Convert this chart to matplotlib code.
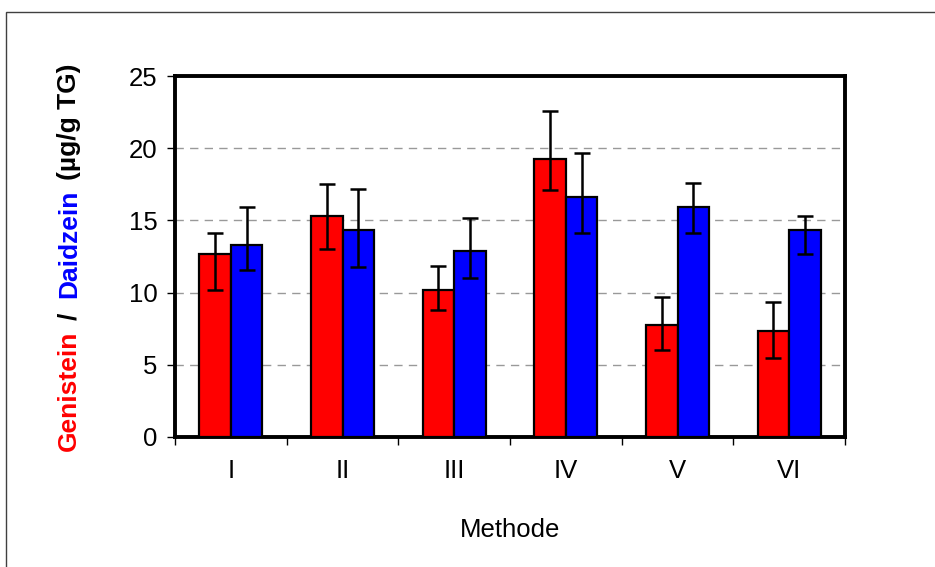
import matplotlib
matplotlib.use('Agg')
import matplotlib.pyplot as plt
from matplotlib.patches import Rectangle
import numpy as np

plt.rcParams['font.family'] = ['Liberation Sans', 'DejaVu Sans']

methods = ['I', 'II', 'III', 'IV', 'V', 'VI']

# Genistein (red) and Daidzein (blue), mean content in ug/g TG
genistein = [12.7, 15.3, 10.15, 19.25, 7.75, 7.35]
genistein_err_lo = [2.5, 2.3, 1.35, 2.15, 1.7, 1.85]
genistein_err_hi = [1.4, 2.25, 1.7, 3.3, 1.95, 2.0]

daidzein = [13.3, 14.35, 12.85, 16.6, 15.95, 14.35]
daidzein_err_lo = [1.75, 2.55, 1.85, 2.5, 1.85, 1.7]
daidzein_err_hi = [2.6, 2.8, 2.3, 3.1, 1.65, 0.95]

yticks = [0, 5, 10, 15, 20, 25]

W, H = 935, 567
fig = plt.figure(figsize=(W / 100, H / 100), dpi=100)
ax = fig.add_axes([175 / W, 1 - 437 / H, 670 / W, 361 / H])

# thin frame around the whole chart area
fig.patches.append(Rectangle((6 / W, -0.1), 1.2, 1.1 - 12 / H,
                             transform=fig.transFigure, fill=False,
                             edgecolor='#404040', linewidth=1.0))

x = np.arange(len(methods))
bw = 0.282
ekw = dict(ecolor='black', elinewidth=1.8, capsize=5.6, capthick=1.8, zorder=4)

ax.bar(x - bw / 2, genistein, bw, color='#ff0000', edgecolor='black',
       linewidth=1.6, zorder=3)
ax.bar(x + bw / 2, daidzein, bw, color='#0000ff', edgecolor='black',
       linewidth=1.6, zorder=3)
ax.errorbar(x - bw / 2, genistein, yerr=[genistein_err_lo, genistein_err_hi],
            fmt='none', **ekw)
ax.errorbar(x + bw / 2, daidzein, yerr=[daidzein_err_lo, daidzein_err_hi],
            fmt='none', **ekw)

ax.set_xlim(-0.5, len(methods) - 0.5)
ax.set_ylim(0, 25)
ax.set_yticks(yticks)
ax.set_yticklabels([str(t) for t in yticks], fontsize=18.5)
ax.yaxis.grid(True, linestyle=(0, (6, 4.5)), color='#999999', linewidth=1.0,
              zorder=0)
ax.set_axisbelow(True)

ax.set_xticks(x)
ax.set_xticklabels(methods, fontsize=18.5)
ax.set_xticks(np.arange(-0.5, len(methods)), minor=True)
ax.tick_params(axis='x', which='major', length=0, pad=16)
ax.tick_params(axis='x', which='minor', length=5.5, width=1.0, direction='out')
ax.tick_params(axis='y', length=5.5, width=1.0, direction='out', pad=7)

for s in ax.spines.values():
    s.set_linewidth(2.8)

fig.text(0.5 * (175 + 845) / W, 1 - 537 / H, 'Methode', fontsize=18.5,
         ha='center', va='baseline')

# multi-coloured y label: each word centred on its own row along a shared
# vertical baseline (row given in pixels from the top of the figure)
parts = [('Genistein', '#ff0000', 391), ('/', 'black', 316),
         ('Daidzein', '#0000ff', 244), ('(µg/g TG)', 'black', 122)]
base_x = 76
for txt, col, row in parts:
    fig.text(base_x / W, 1 - row / H, txt, color=col, fontsize=19,
             fontweight='bold', rotation=90, rotation_mode='anchor',
             ha='center', va='baseline')

fig.savefig('out.png', dpi=100)
